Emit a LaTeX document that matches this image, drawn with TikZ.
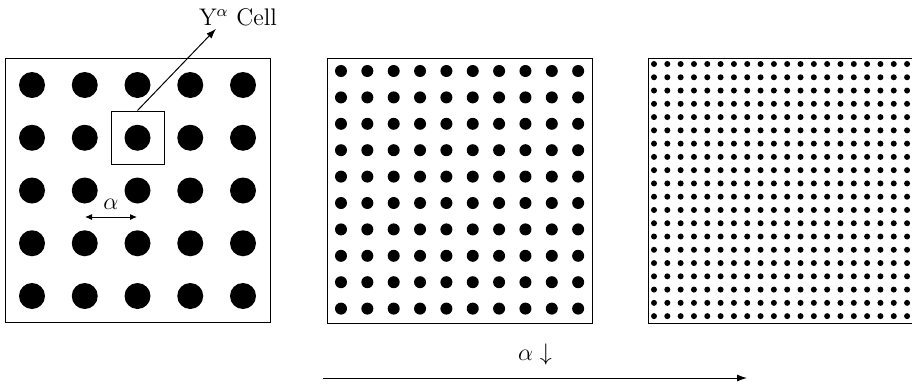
\documentclass[tikz,border=0pt]{standalone}
\usetikzlibrary{arrows.meta, positioning}

\begin{document}
\begin{tikzpicture}[x=0.5pt, y=-0.5pt, font=\large]
    \tikzstyle{frame} = [draw, line width=0.5pt]
    \tikzstyle{dot}   = [fill=black]
    \tikzstyle{arr}   = [-{Latex[length=5pt, width=3.5pt]}, line width=0.5pt]
    \tikzstyle{darr}  = [{Latex[length=3.5pt, width=3pt]}-{Latex[length=3.5pt, width=3pt]}, line width=0.5pt]

    \useasboundingbox (0,0) rectangle (912,386);

    %% Left panel: 5 x 5 lattice
    \draw[frame] (5,58) rectangle (270,322);
    \foreach \i in {0,...,4}
      \foreach \j in {0,...,4}
        \fill[dot] ({32+52.75*\i},{85+52.75*\j}) circle (6.5pt);

    %% Middle panel: 10 x 10 lattice
    \draw[frame] (327,58) rectangle (592,323);
    \foreach \i in {0,...,9}
      \foreach \j in {0,...,9}
        \fill[dot] ({341+26.35*\i},{71+26.4*\j}) circle (3pt);

    %% Right panel: 20 x 20 lattice (right edge runs off the page)
    \draw[frame] (648,58) rectangle (918,323);
    \foreach \i in {0,...,19}
      \foreach \j in {0,...,19}
        \fill[dot] ({654+13.32*\i},{64+13.27*\j}) circle (1.5pt);

    %% ── Unit cell and its label ────────────────────────────────────────
    \node[frame, minimum size=26.5pt, inner sep=0pt] at (137.5,137.5) (cell) {};
    \node at (238,17) (celllbl) {Y$^\alpha$ Cell};
    \draw[arr] (cell.north) -- ([xshift=-11pt, yshift=2pt]celllbl.south);

    %% ── Lattice spacing ────────────────────────────────────────────────
    \coordinate (spl) at (85,217);
    \coordinate (spr) at (137,217);
    \draw[darr] (spl) -- node[above]{$\alpha$} (spr);

    %% ── Bottom arrow: alpha decreasing ─────────────────────────────────
    \coordinate (bl) at (323,378);
    \coordinate (br) at (747,378);
    \draw[arr] (bl) -- node[above=3pt]{$\alpha\downarrow$} (br);
\end{tikzpicture}
\end{document}
